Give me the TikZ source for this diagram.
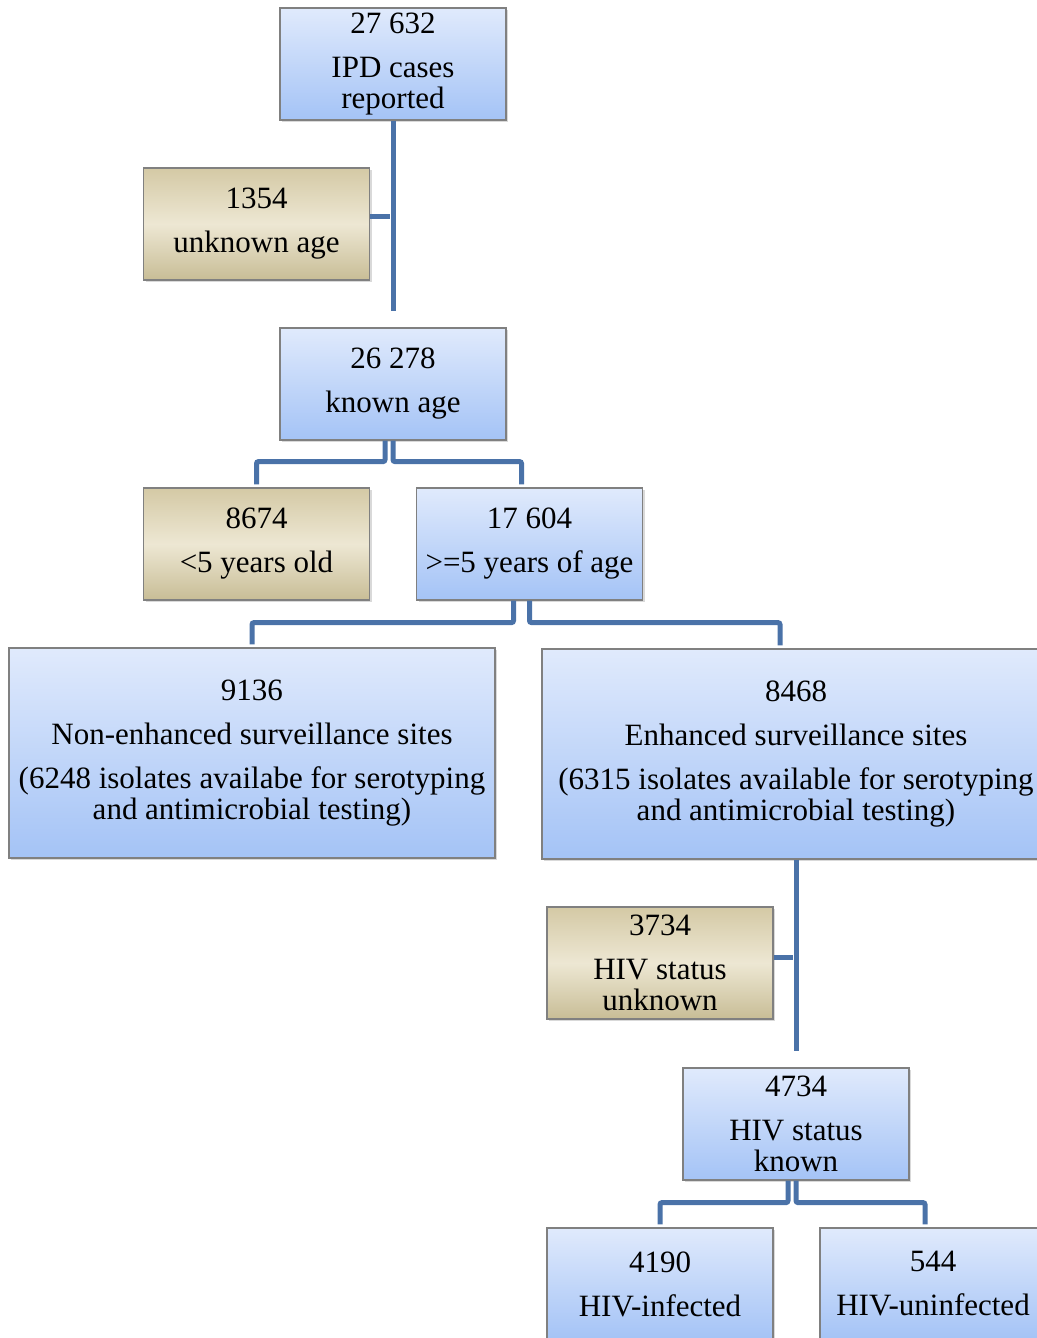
\documentclass[tikz,border=0pt]{standalone}
\usepackage{fontspec}
\setmainfont{Liberation Serif}
\usetikzlibrary{positioning, calc, shadows}

\definecolor{boxtop}{RGB}{224,234,252}
\definecolor{boxbot}{RGB}{164,195,246}
\definecolor{tantop}{RGB}{212,201,165}
\definecolor{tanmid}{RGB}{237,231,211}
\definecolor{tanbot}{RGB}{200,189,150}
\definecolor{boxline}{RGB}{128,128,128}
\definecolor{linkblue}{RGB}{74,114,168}

\begin{document}
\begin{tikzpicture}[
        x=0.5pt, y=-0.5pt,
        every node/.style={font=\fontsize{15.5}{15.5}\selectfont, align=center},
        count/.style={rectangle, minimum width=113pt, minimum height=56pt, inner sep=1pt, draw=boxline, line width=0.6pt, top color=boxtop, bottom color=boxbot, drop shadow={shadow xshift=1.2pt, shadow yshift=-1.2pt, opacity=0.3}},
        excluded/.style={count, top color=tantop, bottom color=tanbot, middle color=tanmid},
        site/.style={count, minimum width=243pt, minimum height=105pt},
        link/.style={line width=2.5pt, draw=linkblue, rounded corners=1pt, shorten >=1.5pt},
    ]
        \useasboundingbox (0,0) rectangle (1037,1338);

        % Top - reported cases and age
        \node (reported) [count] at (393,64) {27 632\\[6.5pt]IPD cases\\reported};
        \node (unknownage) [excluded] at (256.5,224) {1354\\[6.5pt]unknown age};
        \node (knownage) [count] at (393,384) {26 278\\[6.5pt]known age};

        % Age groups
        \node (under5) [excluded] at (256.5,544) {8674\\[6.5pt]<5 years old};
        \node (over5) [count] at (529.5,544) {17 604\\[6.5pt]>=5 years of age};

        % Surveillance sites
        \node (nonenh) [site] at (252,753) {9136\\[6.5pt]Non-enhanced surveillance sites\\[6.5pt](6248 isolates availabe for serotyping\\and antimicrobial testing)};
        \node (enh) [site, minimum width=254pt] at (796,754) {8468\\[6.5pt]Enhanced surveillance sites\\[6.5pt](6315 isolates available for serotyping\\and antimicrobial testing)};

        % HIV status
        \node (hivunknown) [excluded] at (660,963) {3734\\[6.5pt]HIV status\\unknown};
        \node (hivknown) [count] at (796,1124) {4734\\[6.5pt]HIV status\\known};
        \node (infected) [count] at (660,1284) {4190\\[6.5pt]HIV-infected};
        \node (uninfected) [count] at (933,1284) {544\\[6.5pt]HIV-uninfected};

        % Spine from reported cases
        \draw [link] (reported.south) -- ($(knownage.north)+(0,-13)$);
        \draw [link] ([yshift=4pt]unknownage.east) -- ([yshift=4pt]unknownage.east -| reported.south);

        % Age split
        \draw [link] ($(knownage.south)+(-8,0)$) -- ++(0,21) -| (under5.north);
        \draw [link] (knownage.south) -- ++(0,21) -| ($(over5.north)+(-8,0)$);

        % Site split
        \draw [link] ($(over5.south)+(-16,0)$) -- ++(0,22) -| (nonenh.north);
        \draw [link] (over5.south) -- ++(0,22) -| ($(enh.north)+(-16,0)$);

        % Spine from enhanced sites
        \draw [link] (enh.south) -- ($(hivknown.north)+(0,-13)$);
        \draw [link] ([yshift=3pt]hivunknown.east) -- ([yshift=3pt]hivunknown.east -| enh.south);

        % HIV split
        \draw [link] ($(hivknown.south)+(-8,0)$) -- ++(0,22) -| (infected.north);
        \draw [link] (hivknown.south) -- ++(0,22) -| ($(uninfected.north)+(-8,0)$);
    \end{tikzpicture}
\end{document}
